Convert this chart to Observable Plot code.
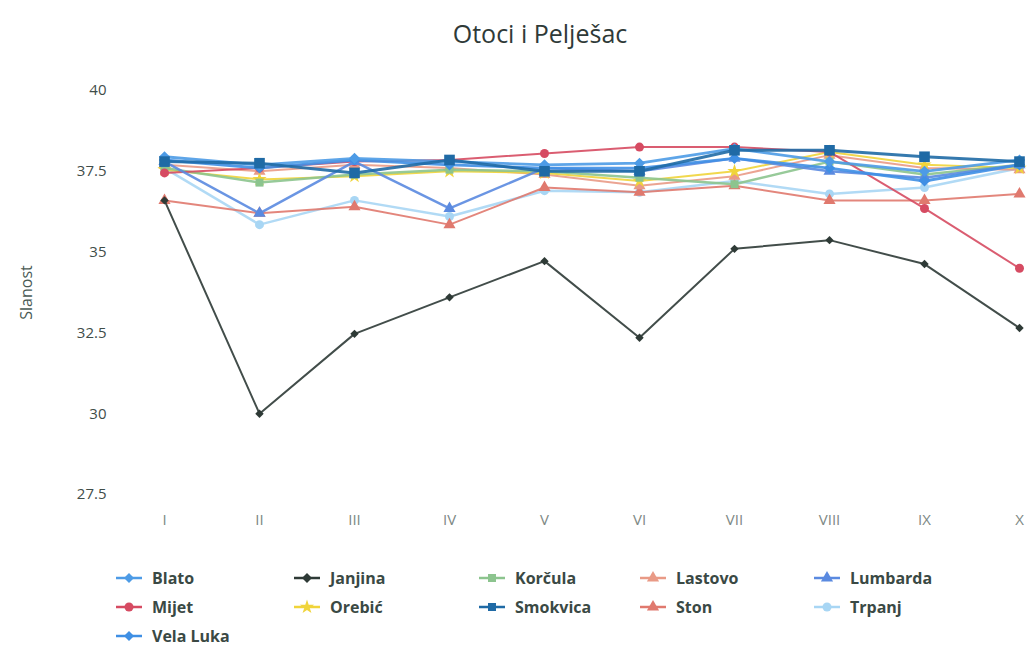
<!DOCTYPE html>
<html>
<head>
<meta charset="utf-8">
<script src="https://cdn.jsdelivr.net/npm/d3@7"></script>
<script src="https://cdn.jsdelivr.net/npm/@observablehq/plot@0.6"></script>
<style>
  body { margin: 0; background: #fff; font-family: "Open Sans", sans-serif; }
  #title { width: 1029px; box-sizing: border-box; padding-left: 51px; padding-top: 16px; height: 60px;
           text-align: center; font-size: 25px; line-height: 34px; color: #2f3a38; }
  #legend { position: relative; width: 1029px; height: 111px; }
  .item { position: absolute; display: flex; align-items: center; font-weight: 700; font-size: 16px; color: #3a4944; height: 24px; }
  .item svg { margin-right: 8px; }
</style>
</head>
<body>
<div id="title">Otoci i Pelješac</div>
<div id="chart"></div>
<div id="legend"></div>
<script>
const months = ["I","II","III","IV","V","VI","VII","VIII","IX","X"];
const yTicks = [27.5, 30, 32.5, 35, 37.5, 40];

const seriesNames = ["Blato","Janjina","Korčula","Lastovo","Lumbarda","Mijet","Orebić","Smokvica","Ston","Trpanj","Vela Luka"];
const seriesColors = ["#4d9be6","#2e3a36","#8cc48e","#e99a86","#5a8ae0","#d64b62","#f0d43a","#1f6aa5","#e0796e","#a8d6f4","#3f8fe4"];
const seriesSymbols = ["diamond2","diamond2","square","triangle","triangle","circle","star","square","triangle","circle","diamond2"];

const blato    = [37.95, 37.7, 37.9, 37.8, 37.7, 37.75, 38.2, 37.8, 37.5, 37.85];
const janjina  = [36.6, 30.0, 32.47, 33.6, 34.72, 32.35, 35.1, 35.37, 34.63, 32.65];
const korcula  = [37.6, 37.15, 37.4, 37.55, 37.5, 37.3, 37.1, 37.8, 37.4, 37.7];
const lastovo  = [37.7, 37.5, 37.7, 37.6, 37.4, 37.05, 37.35, 38.0, 37.6, 37.55];
const lumbarda = [37.8, 36.2, 37.8, 36.35, 37.6, 37.5, 37.9, 37.5, 37.3, 37.7];
const mijet    = [37.45, 37.6, 37.8, 37.85, 38.05, 38.25, 38.25, 38.1, 36.35, 34.5];
const orebic   = [37.55, 37.25, 37.35, 37.5, 37.45, 37.2, 37.5, 38.1, 37.7, 37.6];
const smokvica = [37.8, 37.75, 37.45, 37.85, 37.5, 37.5, 38.15, 38.15, 37.95, 37.8];
const ston     = [36.6, 36.2, 36.4, 35.85, 37.0, 36.85, 37.05, 36.6, 36.6, 36.8];
const trpanj   = [37.6, 35.85, 36.6, 36.1, 36.9, 36.85, 37.2, 36.8, 37.0, 37.6];
const velaLuka = [37.85, 37.6, 37.85, 37.7, 37.6, 37.6, 37.9, 37.6, 37.2, 37.7];

const seriesValues = [blato, janjina, korcula, lastovo, lumbarda, mijet, orebic, smokvica, ston, trpanj, velaLuka];
const widths = [2.8, 2, 2.5, 2, 2.5, 2, 2, 3, 2, 2.5, 2.8];
const radii  = [5, 3.8, 4.5, 4.5, 4.5, 4.5, 4.5, 6, 4.5, 4.5, 5];

const data = [];
seriesNames.forEach((name, i) => {
  seriesValues[i].forEach((v, j) => data.push({series: name, month: months[j], value: v}));
});

const drawOrder = ["Trpanj","Ston","Lastovo","Orebić","Korčula","Mijet","Lumbarda","Vela Luka","Blato","Smokvica","Janjina"];
const marks = [];
for (const name of drawOrder) {
  const i = seriesNames.indexOf(name);
  const d = data.filter(r => r.series === name);
  marks.push(Plot.line(d, {x: "month", y: "value", stroke: seriesColors[i], strokeWidth: widths[i], strokeOpacity: 0.9}));
  marks.push(Plot.dot(d, {x: "month", y: "value", fill: seriesColors[i], symbol: seriesSymbols[i], r: radii[i]}));
}

const chart = Plot.plot({
  width: 1029,
  height: 480,
  marginLeft: 163,
  marginRight: 9,
  marginTop: 30,
  marginBottom: 46,
  style: {fontFamily: "Open Sans, sans-serif", background: "#fff"},
  x: {domain: months, padding: 0},
  y: {domain: [27.5, 40]},
  marks: [
    Plot.axisY({ticks: yTicks, tickFormat: d => String(d), tickSize: 0, tickPadding: 57, fontSize: 15, fill: "#3f4d49",
      label: "Slanost", labelAnchor: "center", labelArrow: "none", labelOffset: 143}),
    Plot.axisX({tickSize: 0, tickPadding: 20, fontSize: 15, fill: "#7d8884", label: null}),
    ...marks
  ]
});
document.getElementById("chart").appendChild(chart);
d3.select(chart).selectAll("[aria-label='y-axis label'] text").style("font-size", "16px").attr("fill", "#4a5a55");

// legend
const legend = d3.select("#legend");
const textX = [152, 330, 515, 676, 850];
const rowY = [578, 607, 636];
const top0 = 540;
const symMap = {circle: d3.symbolCircle, diamond2: d3.symbolDiamond2, square: d3.symbolSquare, triangle: d3.symbolTriangle, star: d3.symbolStar};
seriesNames.forEach((name, i) => {
  const col = i % 5, row = Math.floor(i / 5);
  const item = legend.append("div").attr("class", "item")
    .style("left", (textX[col] - 38) + "px")
    .style("top", (rowY[row] - top0 - 12) + "px");
  const svg = item.append("svg").attr("width", 30).attr("height", 16);
  svg.append("line").attr("x1", 2).attr("x2", 28).attr("y1", 8).attr("y2", 8)
    .attr("stroke", seriesColors[i]).attr("stroke-width", 2.5);
  svg.append("path").attr("transform", "translate(15,8)")
    .attr("d", d3.symbol(symMap[seriesSymbols[i]], 64)())
    .attr("fill", seriesColors[i]);
  item.append("span").text(name);
});
</script>
</body>
</html>
